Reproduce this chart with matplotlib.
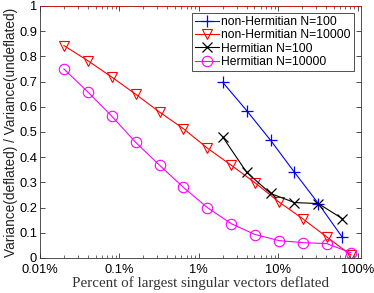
import matplotlib
matplotlib.use("Agg")
import matplotlib.pyplot as plt
from matplotlib.ticker import LogLocator, NullFormatter, FixedLocator, FixedFormatter

# Data (percent of largest singular vectors deflated)
x_big = [0.02, 0.04, 0.08, 0.16, 0.32, 0.64, 1.28, 2.56, 5.12, 10.24, 20.48, 40.96, 81.92]
x_small = [2, 4, 8, 16, 32, 64]

nonherm_100 = [0.697, 0.585, 0.467, 0.340, 0.216, 0.082]
nonherm_10000 = [0.843, 0.783, 0.718, 0.650, 0.579, 0.513, 0.436, 0.368, 0.298, 0.222, 0.155, 0.083, 0.012]
herm_100 = [0.480, 0.340, 0.256, 0.220, 0.216, 0.156]
herm_10000 = [0.750, 0.659, 0.563, 0.459, 0.368, 0.280, 0.200, 0.136, 0.093, 0.069, 0.061, 0.057, 0.021]

labels = ["non-Hermitian N=100", "non-Hermitian N=10000", "Hermitian N=100", "Hermitian N=10000"]
xticks = [0.01, 0.1, 1, 10, 100]
xticklabels = ["0.01%", "0.1%", "1%", "10%", "100%"]
yticks = [0, 0.1, 0.2, 0.3, 0.4, 0.5, 0.6, 0.7, 0.8, 0.9, 1]
yticklabels = ["0", "0.1", "0.2", "0.3", "0.4", "0.5", "0.6", "0.7", "0.8", "0.9", "1"]

plt.rcParams['font.family'] = ['Liberation Sans', 'DejaVu Sans']

fig = plt.figure(figsize=(3.74, 2.93), dpi=100)
ax = fig.add_axes([40/374, 35/293, 321/374, 252/293])

lw = 0.8
ax.plot(x_small, nonherm_100, color='#0000ff', marker='+', ms=9, mew=0.9, lw=lw, label=labels[0])
ax.plot(x_big, nonherm_10000, color='#ff0000', marker='v', ms=7.5, mfc='none', mew=0.8, lw=lw, label=labels[1])
ax.plot(x_small, herm_100, color='black', marker='x', ms=7, mew=0.9, lw=lw, label=labels[2])
ax.plot(x_big, herm_10000, color='#ff00ff', marker='o', ms=7.5, mfc='none', mew=0.8, lw=lw, label=labels[3])
ax.axhline(1, color='red', ls='--', lw=0.6, zorder=5)

ax.set_xscale('log')
ax.set_xlim(0.01, 110)
ax.set_ylim(0, 1)
ax.xaxis.set_major_locator(FixedLocator(xticks))
ax.xaxis.set_major_formatter(FixedFormatter(xticklabels))
ax.xaxis.set_minor_locator(LogLocator(base=10, subs=range(2, 10), numticks=20))
ax.xaxis.set_minor_formatter(NullFormatter())
ax.set_yticks(yticks)
ax.set_yticklabels(yticklabels)

ax.tick_params(which='both', direction='in', top=True, right=True, labelsize=9.3, color='#333333')
ax.tick_params(which='major', length=3.5, width=0.6, pad=2)
ax.tick_params(axis='x', which='major', pad=4.5)
ax.tick_params(which='minor', length=2, width=0.5)
for s in ax.spines.values():
    s.set_linewidth(0.6)
    s.set_color('#333333')

ax.set_xlabel("Percent of largest singular vectors deflated", family=['Liberation Serif'], fontsize=10.8, labelpad=0, color='#333333')
ax.set_ylabel("Variance(deflated) / Variance(undeflated)", fontsize=9.8, labelpad=1, color='#222222')

leg = ax.legend(loc='upper right', fontsize=8.7, frameon=True, fancybox=False, edgecolor='black',
                borderpad=0.25, labelspacing=0.1, handlelength=2.0, handletextpad=0.2,
                borderaxespad=0.6)
leg.get_frame().set_linewidth(0.6)

fig.savefig("out.png", dpi=100)
